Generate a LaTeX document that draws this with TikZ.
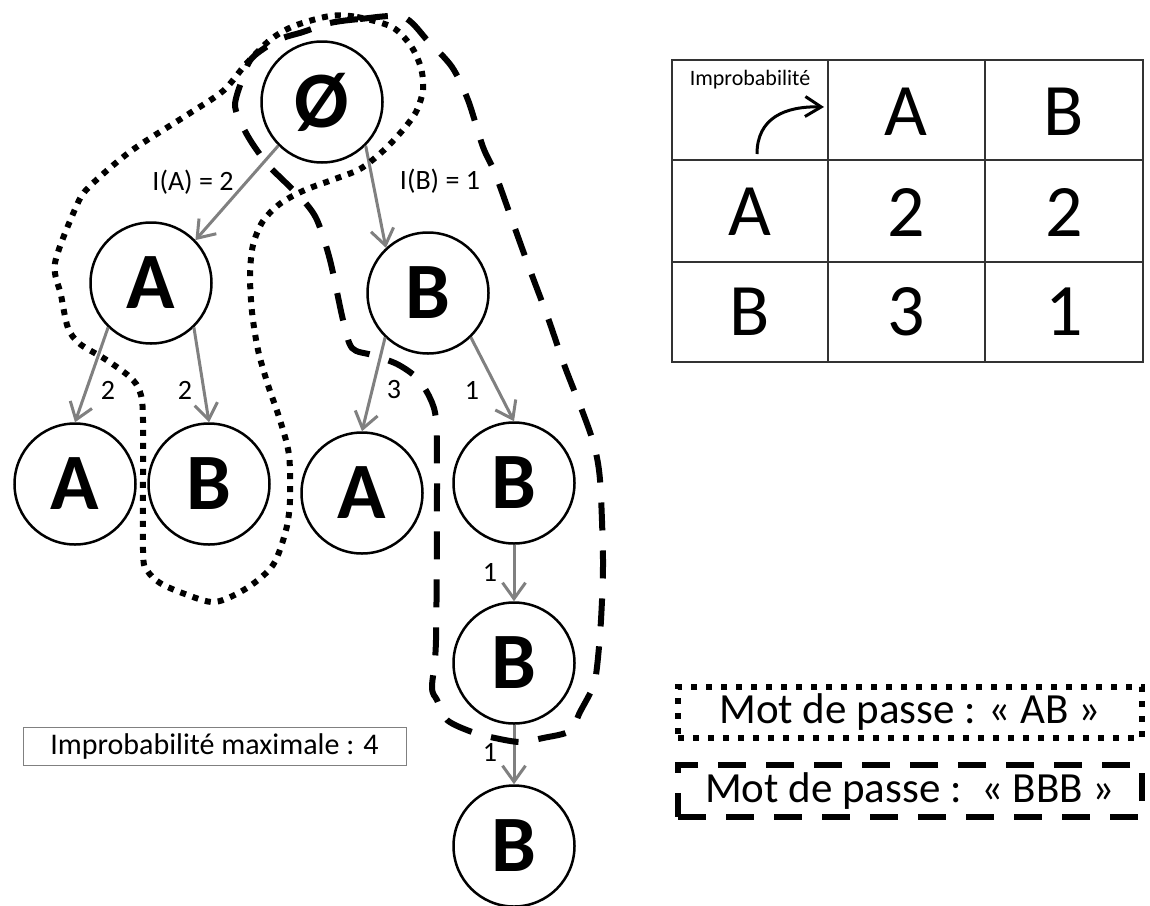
\documentclass[tikz,border=0pt]{standalone}
\usepackage{fontspec}
\setmainfont{Carlito}
\usetikzlibrary{arrows.meta, positioning}

\tikzset{
    state/.style={circle, draw, line width=2.5pt, fill=white, minimum size=121pt, inner sep=0pt,
        font=\fontsize{80}{80}\selectfont\bfseries},
    trans/.style={draw=gray, line width=3pt, -{Straight Barb[length=16pt, width=23pt]}},
    weight/.style={font=\fontsize{28}{28}\selectfont, inner sep=0pt},
    cell/.style={font=\fontsize{74}{74}\selectfont, inner sep=0pt},
    dotloop/.style={line width=6pt, dash pattern=on 6pt off 7pt},
    dashloop/.style={line width=6pt, dash pattern=on 28pt off 20pt},
}

\begin{document}
\begin{tikzpicture}[x=1pt, y=-1pt]
    \useasboundingbox (0,0) rectangle (1150,905);

    % Tree of passwords
    \node[state] (root) at (322,102) {Ø};
    \node[state] (a) at (151,283) {A};
    \node[state] (b) at (428,293) {B};
    \node[state] (aa) at (75,484) {A};
    \node[state] (ab) at (209,484) {B};
    \node[state] (ba) at (362,493) {A};
    \node[state] (bb) at (514,483) {B};
    \node[state] (bbb) at (514,663) {B};
    \node[state] (bbbb) at (514,846) {B};

    \draw[trans] (root.-135) -- (a.44);
    \draw[trans] (root.-45) -- (b.133);
    \draw[trans] (a.-134) -- (aa.north);
    \draw[trans] (a.-46) -- (ab.north);
    \draw[trans] (b.-134) -- (ba.north);
    \draw[trans] (b.-46) -- (bb.north);
    \draw[trans] (bb) -- (bbb);
    \draw[trans] (bbb) -- (bbbb);

    % Improbabilities on the edges
    \node[weight] (la) at (193,182) {I(A) = 2};
    \node[weight] (lb) at (440,181) {I(B) = 1};
    \node[weight] (laa) at (108,390) {2};
    \node[weight] (lab) at (185,390) {2};
    \node[weight] (lba) at (394,390) {3};
    \node[weight] (lbb) at (472,390) {1};
    \node[weight] (lbbb) at (490,572) {1};
    \node[weight] (lbbbb) at (490,752) {1};

    % Password AB
    \draw[dotloop] plot[smooth cycle, tension=0.5] coordinates {
        (330,16) (357,17) (392,27) (411,46) (421,68) (423,90) (416,112) (402,131)
        (383,151) (360,169) (332,180) (305,190) (281,203) (263,221) (253,245) (250,275)
        (252,312) (258,350) (268,385) (280,420) (289,455) (290,500) (286,530) (273,565)
        (247,588) (215,602) (185,594) (160,583) (147,570) (143,550) (143,420) (140,392)
        (130,377) (105,359) (80,344) (68,328) (61,295) (55,263) (76,207) (89,187)
        (131,151) (187,115) (223,91) (246,64) (270,40) (294,26)};

    % Password BBB
    \draw[dashloop] plot[smooth cycle, tension=0.5] coordinates {
        (330,23) (360,19) (403,17) (428,41) (452,67) (468,100) (483,147) (495,173)
        (513,223) (530,270) (548,318) (565,367) (583,413) (594,445) (600,480) (603,560)
        (601,620) (597,667) (593,687) (580,712) (570,731) (543,738) (520,742) (495,738)
        (472,732) (447,720) (437,700) (432,687) (436,640) (437,480) (436,420) (430,398)
        (417,378) (397,364) (372,355) (352,348) (343,320) (330,260) (317,220) (303,200)
        (285,182) (268,165) (252,143) (242,125) (235,105) (242,80) (252,58) (278,40)
        (303,32)};

    % Table of improbabilities
    \draw[line width=1.5pt, black!80] (672,60) rectangle (1143,362);
    \draw[line width=1.5pt, black!80] (828,60) -- (828,362) (985,60) -- (985,362)
        (672,160) -- (1143,160) (672,262) -- (1143,262);

    \node[font=\fontsize{22}{22}\selectfont] (improb) at (750,80) {Improbabilité};
    \coordinate (from) at (757,154);
    \coordinate (to) at (824,107);
    \draw[line width=3pt, -{Straight Barb[length=16pt, width=20pt]}]
        (from) .. controls (757,118) and (785,106) .. (to);

    \node[cell] (ha) at (906,112) {A};
    \node[cell] (hb) at (1064,112) {B};
    \node[cell] (ra) at (750,212) {A};
    \node[cell] (rb) at (750,312) {B};
    \node[cell] (caa) at (906,212) {2};
    \node[cell] (cab) at (1064,212) {2};
    \node[cell] (cba) at (906,312) {3};
    \node[cell] (cbb) at (1064,312) {1};

    % Maximum improbability
    \node[draw=gray, line width=1pt, minimum width=383pt, minimum height=38pt, inner sep=0pt,
        font=\fontsize{30}{30}\selectfont] (maxi) at (214.5,746) {Improbabilité maximale : 4};

    % Legend
    \node[draw, dotloop, dash pattern=on 6pt off 9pt, minimum width=464pt, minimum height=51pt,
        inner sep=0pt, font=\fontsize{43}{43}\selectfont] (keyab) at (910,712.5) {Mot de passe : « AB »};
    \node[draw, dashloop, minimum width=464pt, minimum height=52pt, inner sep=0pt,
        font=\fontsize{43}{43}\selectfont] (keybbb) at (910,791) {Mot de passe :~~« BBB »};
\end{tikzpicture}
\end{document}
